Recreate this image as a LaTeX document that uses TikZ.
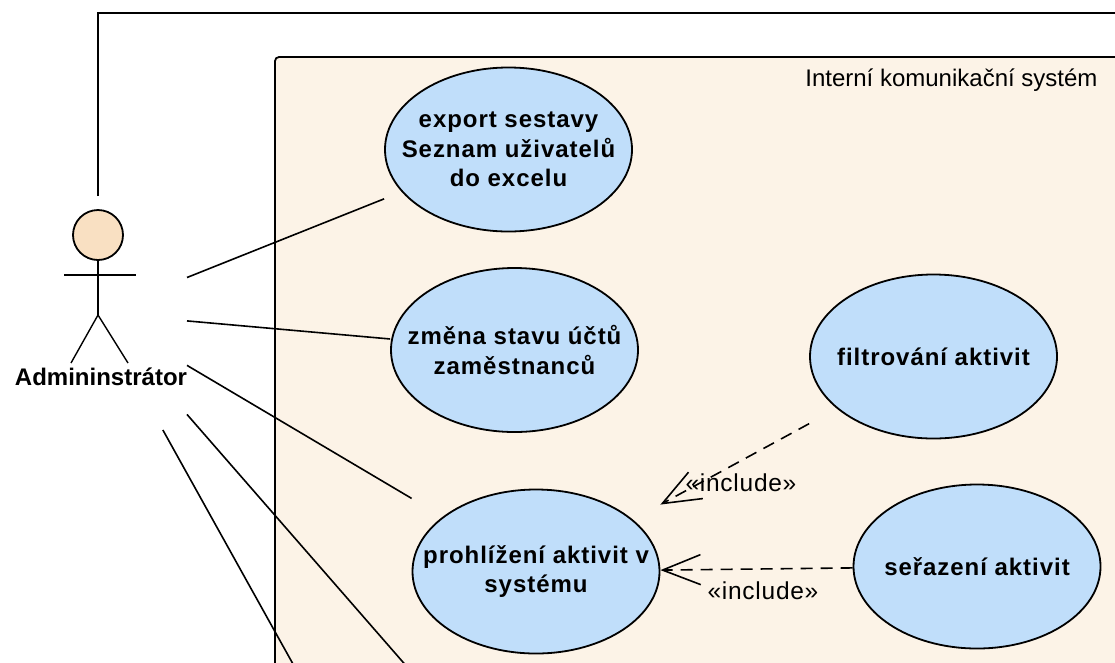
\documentclass[tikz,border=0pt]{standalone}
\usepackage{fontspec}
\setmainfont{Liberation Sans}
\newfontfamily\ucfont[LetterSpace=4]{Liberation Sans}
\newfontfamily\stfont[LetterSpace=3]{Liberation Sans}
\usetikzlibrary{shapes.geometric,arrows.meta,fit,calc}
\definecolor{sysfill}{RGB}{252,243,231}
\definecolor{ucfill}{RGB}{192,222,250}
\definecolor{headfill}{RGB}{249,224,194}
\begin{document}
\begin{tikzpicture}[x=1pt,y=-1pt,
  usecase/.style={ellipse, draw=black, line width=1.8pt, fill=ucfill,
    minimum width=247pt, minimum height=164pt, inner xsep=-50pt, inner ysep=0pt,
    align=center, font=\ucfont\fontsize{24}{29.5}\selectfont\bfseries},
  ucbox/.style={rectangle, inner sep=0pt, outer sep=0pt, draw=none},
  assoc/.style={line width=1.6pt},
  incl/.style={line width=1.6pt, dash pattern=on 12pt off 8pt,
    -{Straight Barb[length=38pt,width=30pt]}},
  stereo/.style={font=\stfont\fontsize{24.5}{28}\selectfont},
  limb/.style={line width=1.4pt},
]
\clip (0,0) rectangle (1115,662);
\fill[white] (0,0) rectangle (1115,662);

% system boundary
\draw[fill=sysfill, line width=1.8pt, rounded corners=4pt] (275,57) rectangle (1140,700);
\node[anchor=east, font=\fontsize{24}{28}\selectfont] (sysname) at (1101,80) {Interní komunikační systém};

% use cases
\node[usecase] (export) at (508.5,149.5) {export sestavy\\Seznam uživatelů\\do excelu};
\node[usecase] (zmena) at (514.5,350) {změna stavu účtů\\zaměstnanců};
\node[usecase] (prohl) at (536,571.5) {prohlížení aktivit v\\systému};
\node[usecase] (filtr) at (933.5,356.5) {filtrování aktivit};
\node[usecase] (seraz) at (977,566.5) {seřazení aktivit};

% bounding boxes used as connector ends
\node[ucbox, fit=(export)] (exportbox) {};
\node[ucbox, fit=(zmena)] (zmenabox) {};
\node[ucbox, fit=(prohl)] (prohlbox) {};
\node[ucbox, fit=(filtr)] (filtrbox) {};
\node[ucbox, fit=(seraz)] (serazbox) {};

% actor
\node[ucbox, minimum width=178pt, minimum height=234pt] (admin) at (98,313) {};
\draw[line width=1.8pt, fill=headfill] (98,235) circle[radius=25];
\draw[limb] (64,275) -- (136,275);
\draw[limb] (98,260) -- (98,315);
\draw[limb] (71,363) -- (98,315) -- (128,363);
\node[font=\fontsize{24}{28}\selectfont\bfseries] (adminlabel) at (101,377) {Admininstrátor};

% free ends outside the visible area
\coordinate (topright) at (1140,13);
\coordinate (offA) at (436,700);
\coordinate (offB) at (313,700);

% associations
\draw[assoc] (admin.north) -- (admin.north |- topright) -- (topright);
\draw[assoc] (admin) -- (exportbox);
\draw[assoc] (admin) -- (zmenabox);
\draw[assoc] (admin) -- (prohlbox);
\draw[assoc] (admin) -- (offA);
\draw[assoc] (admin) -- (offB);

% include relations
\draw[incl] (filtrbox) -- (prohlbox);
\draw[incl] (serazbox) -- (prohlbox);
\node[stereo] (incl1) at (741,483) {«include»};
\node[stereo] (incl2) at (763,591) {«include»};
\end{tikzpicture}
\end{document}
